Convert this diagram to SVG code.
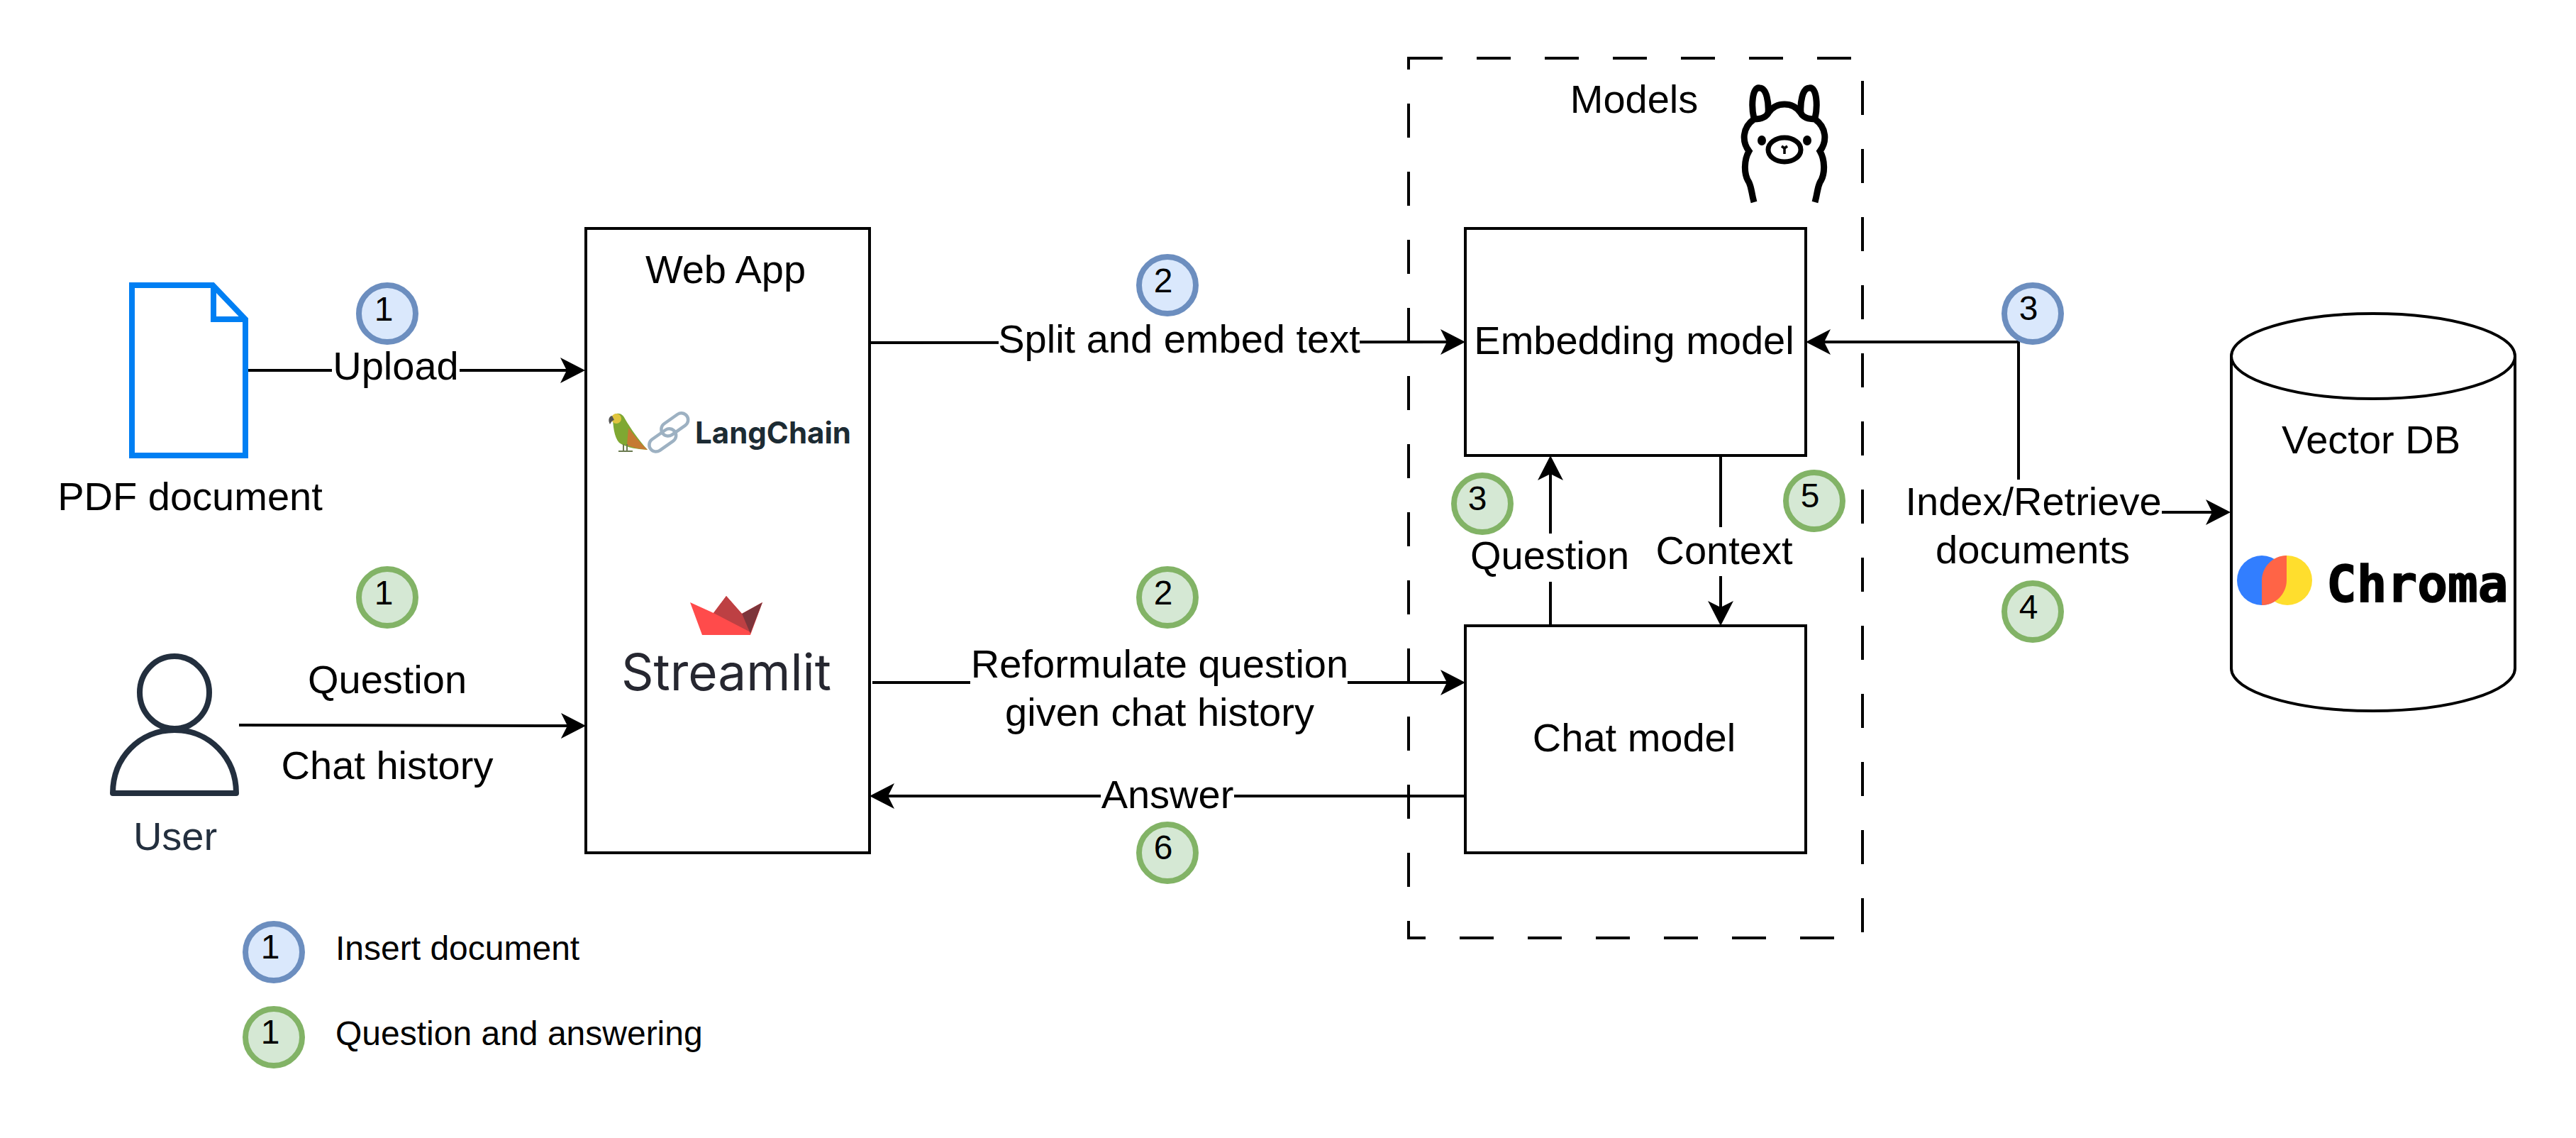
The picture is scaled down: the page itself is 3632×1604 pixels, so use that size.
<svg xmlns="http://www.w3.org/2000/svg" width="3632" height="1604" viewBox="0 0 3632 1604">
<style>
text{font-family:"Liberation Sans",Arial,sans-serif;font-size:56px;fill:#000;text-anchor:middle}
.box{fill:#fff;stroke:#000;stroke-width:4}
.conn{fill:none;stroke:#000;stroke-width:4;marker-end:url(#arrow)}
.bg{fill:#fff}
.bb{fill:#dae8fc;stroke:#6c8ebf;stroke-width:8}
.gb{fill:#d5e8d4;stroke:#82b366;stroke-width:8}
.num{font-size:48px}
.leg{font-size:48px;text-anchor:start}
</style>
<defs>
<marker id="arrow" markerUnits="userSpaceOnUse" markerWidth="36" markerHeight="38" refX="25" refY="19" orient="auto"><path d="M35 19L0 1L9 19L0 37Z" fill="#000"/></marker>
</defs>
<rect width="3632" height="1604" fill="#fff"/>
<g id="models">
<rect x="1986" y="82" width="640" height="1240" fill="none" stroke="#000" stroke-width="4" stroke-dasharray="48 48"/>
<text x="2304" y="159">Models</text>
<g id="ollama-logo">
<path d="M2473 167C2469 150 2470 122 2481 124C2491 124 2494 145 2493 160M2559 167C2563 150 2562 122 2551 124C2541 124 2538 145 2539 160" fill="#fff" stroke="#000" stroke-width="9"/>
<path d="M2473 285C2469 270 2470 266 2466 257C2458 245 2459 225 2466 213C2456 200 2456 180 2473 168C2483 168 2490 166 2494 158C2500 150 2508 147 2516 147C2524 147 2532 150 2538 158C2542 166 2549 168 2559 168C2576 180 2576 200 2566 213C2573 225 2574 245 2566 257C2562 266 2563 270 2559 285" fill="#fff" stroke="#000" stroke-width="9"/>
<ellipse cx="2484" cy="198" rx="6" ry="7"/><ellipse cx="2548" cy="198" rx="6" ry="7"/>
<ellipse cx="2516" cy="211" rx="23" ry="17" fill="#fff" stroke="#000" stroke-width="7"/>
<path d="M2512 206L2516 209L2520 206M2516 209V217" fill="none" stroke="#000" stroke-width="3.5"/>
</g>
</g>
<g id="pdf-document">
<path d="M186 402H300L346 450V642H186Z" fill="#fff" stroke="#007ff3" stroke-width="8"/>
<path d="M301 402V450H346" fill="none" stroke="#007ff3" stroke-width="8"/>
<text x="268" y="719">PDF document</text>
</g>
<g id="user">
<ellipse cx="246" cy="976" rx="49" ry="51" fill="#fff" stroke="#232f3e" stroke-width="8"/>
<path d="M159 1118C159 1068 197 1029 246 1029C295 1029 333 1068 333 1118Z" fill="#fff" stroke="#232f3e" stroke-width="8" stroke-linejoin="round"/>
<text x="247" y="1198" style="fill:#232f3e">User</text>
</g>
<g id="web-app">
<rect class="box" x="826" y="322" width="400" height="880"/>
<text x="1023" y="399">Web App</text>
<g id="langchain-logo">
<path d="M864 586C870 580 878 583 881 590C889 604 902 622 913 634C902 633 884 632 873 624C866 616 864 600 864 586Z" fill="#7fa832"/>
<path d="M886 603C895 615 904 626 913 634C902 633 892 631 884 627Z" fill="#c57a33"/>
<circle cx="869" cy="590" r="7" fill="#e0c53f"/>
<path d="M863 586C858 587 857 593 860 598C862 594 864 592 866 592Z" fill="#555"/>
<path d="M872 636H892M879 626V636M884 626V636" stroke="#6a7a50" stroke-width="2" fill="none"/>
<rect x="930" y="589" width="42" height="19" rx="9.5" transform="rotate(-35 951 598)" fill="none" stroke="#9db1c2" stroke-width="4.5"/>
<rect x="913" y="611" width="42" height="19" rx="9.5" transform="rotate(-35 934 620)" fill="none" stroke="#9db1c2" stroke-width="4.5"/>
<text x="980" y="625" style="font-family:Inter,'Liberation Sans',sans-serif;font-weight:700;font-size:42px;fill:#1c2b33;text-anchor:start">LangChain</text>
</g>
<g id="streamlit-logo">
<path d="M973 849L1006 864L1024 840L1046 865L1075 849L1058 895H990Z" fill="#ff4b4b"/>
<path d="M1006 864L1024 840L1046 865L1058 891L1006 864Z" fill="#bd4043"/>
<path d="M1046 865L1075 849L1058 893Z" fill="#7d353b"/>
<text x="1024" y="973" style="font-family:Inter,Roboto,sans-serif;font-size:71px;fill:#262730">Streamlit</text>
</g>
</g>
<g id="embedding-model">
<rect class="box" x="2066" y="322" width="480" height="320"/>
<text x="2304" y="499">Embedding model</text>
</g>
<g id="chat-model">
<rect class="box" x="2066" y="882" width="480" height="320"/>
<text x="2304" y="1059">Chat model</text>
</g>
<g id="vector-db">
<path d="M3146 502C3146 469 3236 442 3346 442C3456 442 3546 469 3546 502V942C3546 975 3456 1002 3346 1002C3236 1002 3146 975 3146 942Z" class="box"/>
<path d="M3146 502C3146 535 3236 562 3346 562C3456 562 3546 535 3546 502" class="box" style="fill:none"/>
<text x="3343" y="639">Vector DB</text>
<g id="chroma-logo">
<ellipse cx="3189" cy="818" rx="35" ry="35" fill="#327eff"/>
<ellipse cx="3225" cy="818" rx="35" ry="35" fill="#ffde2d"/>
<path d="M3224 783C3205 783 3189 799 3189 818V853C3208 853 3224 837 3224 818Z" fill="#ff6446"/>
<text x="3280" y="848" style="font-family:'DejaVu Sans Mono',monospace;font-weight:700;font-size:71px;text-anchor:start;stroke:#000;stroke-width:1.5">Chroma</text>
</g>
</g>
<g id="connectors">
<path class="conn" d="M350 522H815"/>
<path class="conn" d="M337 1022L816 1023"/>
<path class="conn" d="M1226 483L2056 482"/>
<path class="conn" d="M1230 962H2056"/>
<path class="conn" d="M2066 1122H1236"/>
<path class="conn" d="M2186 882V652"/>
<path class="conn" d="M2426 642V872"/>
<path class="conn" d="M2846 676V482H2556"/>
<path class="conn" d="M3048 722H3135"/>
</g>
<g id="labels">
<rect class="bg" x="468" y="490" width="180" height="64"/><text x="558" y="535">Upload</text>
<text x="546" y="977">Question</text>
<text x="546" y="1098">Chat history</text>
<rect class="bg" x="1408" y="450" width="509" height="64"/><text x="1662.5" y="497">Split and embed text</text>
<rect class="bg" x="1368" y="914" width="532" height="64"/><text x="1635" y="955">Reformulate question</text>
<text x="1635" y="1023">given chat history</text>
<rect class="bg" x="1552" y="1090" width="188" height="64"/><text x="1646" y="1139">Answer</text>
<rect class="bg" x="2088" y="752" width="194" height="68"/><text x="2185" y="802">Question</text>
<rect class="bg" x="2328" y="743" width="204" height="69"/><text x="2431" y="795">Context</text>
<text x="2867" y="726">Index/Retrieve</text>
<text x="2866" y="794">documents</text>
</g>
<g id="badge-blue-1"><ellipse class="bb" cx="546" cy="442" rx="40" ry="40"/><text class="num" x="541" y="452">1</text></g>
<g id="badge-blue-2"><ellipse class="bb" cx="1646" cy="402" rx="40" ry="40"/><text class="num" x="1640" y="412">2</text></g>
<g id="badge-blue-3"><ellipse class="bb" cx="2866" cy="442" rx="40" ry="40"/><text class="num" x="2860" y="451">3</text></g>
<g id="badge-green-1"><ellipse class="gb" cx="546" cy="842" rx="40" ry="40"/><text class="num" x="541" y="852">1</text></g>
<g id="badge-green-2"><ellipse class="gb" cx="1646" cy="842" rx="40" ry="40"/><text class="num" x="1640" y="852">2</text></g>
<g id="badge-green-3"><ellipse class="gb" cx="2090" cy="710" rx="40" ry="40"/><text class="num" x="2083" y="719">3</text></g>
<g id="badge-green-4"><ellipse class="gb" cx="2866" cy="862" rx="40" ry="40"/><text class="num" x="2860" y="872">4</text></g>
<g id="badge-green-5"><ellipse class="gb" cx="2558" cy="706" rx="40" ry="40"/><text class="num" x="2552" y="715">5</text></g>
<g id="badge-green-6"><ellipse class="gb" cx="1646" cy="1202" rx="40" ry="40"/><text class="num" x="1640" y="1211">6</text></g>
<g id="legend">
<ellipse class="bb" cx="386" cy="1342" rx="40" ry="40"/><text class="num" x="381" y="1351">1</text>
<text class="leg" x="473" y="1353">Insert document</text>
<ellipse class="gb" cx="386" cy="1462" rx="40" ry="40"/><text class="num" x="381" y="1471">1</text>
<text class="leg" x="473" y="1473">Question and answering</text>
</g>
</svg>
